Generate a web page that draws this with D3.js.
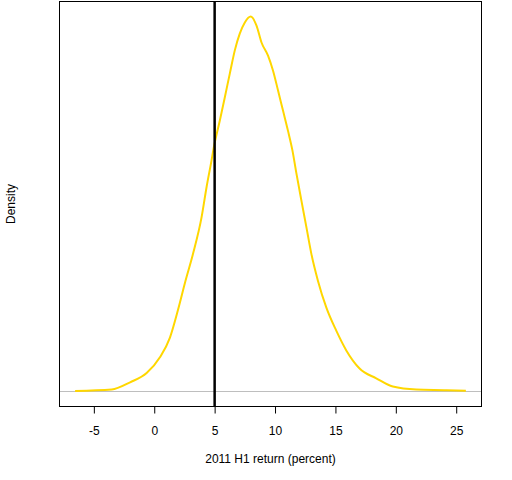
<!DOCTYPE html>
<html><head><meta charset="utf-8">
<script src="https://cdn.jsdelivr.net/npm/d3@7"></script>
<style>body{margin:0;background:#fff}svg{display:block}text{font-family:"Liberation Sans",Arial,sans-serif;fill:#000}</style>
</head><body>
<svg id="c" width="512" height="480"></svg>
<script>
const returns = [-6.55,-3.52,-2.0,-0.63,0.47,1.3,1.98,2.54,3.22,3.92,4.33,4.74,4.93,5.43,5.84,6.26,6.67,7.08,7.5,7.99,8.46,8.88,9.42,9.83,10.25,10.66,11.07,11.44,11.77,12.18,12.6,13.0,13.55,14.25,15.07,15.9,17.0,18.38,19.75,21.7,24.2,25.8];
const density = [0.00015,0.0006,0.0028,0.0056,0.0104,0.0164,0.0250,0.0330,0.0420,0.0530,0.0621,0.0702,0.0742,0.0824,0.0894,0.0967,0.1037,0.1088,0.1122,0.1140,0.1113,0.1061,0.1021,0.0976,0.0915,0.0854,0.0793,0.0733,0.0663,0.0581,0.0499,0.0420,0.0337,0.0255,0.0185,0.0125,0.0070,0.0040,0.0015,0.0006,0.0004,0.0002];
const xTicks = [-5,0,5,10,15,20,25];
const refLine = 5;

const L=59.5,R=481.5,T=1.5,B=406.5;
const svg=d3.select("#c");
const xr=d3.extent(returns), xp=(xr[1]-xr[0])*0.04;
const x=d3.scaleLinear().domain([xr[0]-xp,xr[1]+xp]).range([L,R]);
const ymax=d3.max(density), yp=ymax*0.04;
const y=d3.scaleLinear().domain([-yp,ymax+yp]).range([B,T]);

svg.append("defs").append("clipPath").attr("id","clip").append("rect").attr("x",L).attr("y",T).attr("width",R-L).attr("height",B-T);
const g=svg.append("g").attr("clip-path","url(#clip)");
g.append("line").attr("x1",L).attr("x2",R).attr("y1",Math.round(y(0))+0.5).attr("y2",Math.round(y(0))+0.5).attr("stroke","#BEBEBE").attr("stroke-width",1);
const pts=returns.map((v,i)=>[v,density[i]]);
g.append("path").datum(pts).attr("fill","none").attr("stroke","#FFD700").attr("stroke-width",2)
 .attr("d",d3.line().x(d=>x(d[0])).y(d=>y(d[1])).curve(d3.curveMonotoneX));
g.append("line").attr("x1",x(refLine)).attr("x2",x(refLine)).attr("y1",T).attr("y2",B).attr("stroke","#000").attr("stroke-width",2.5);

svg.append("rect").attr("x",L).attr("y",T).attr("width",R-L).attr("height",B-T).attr("fill","none").attr("stroke","#000").attr("stroke-width",1);

const ax=svg.append("g").attr("transform",`translate(0,${B})`)
 .call(d3.axisBottom(x).tickValues(xTicks).tickSize(7).tickPadding(13).tickFormat(d=>String(d)));
ax.select(".domain").remove();
ax.selectAll("line").attr("stroke","#000");
ax.selectAll("text").attr("font-size","12px").attr("font-family","Liberation Sans, Arial, sans-serif").attr("fill","#000");

svg.append("text").attr("x",(L+R)/2).attr("y",463).attr("text-anchor","middle").attr("font-size","12px").text("2011 H1 return (percent)");
svg.append("text").attr("transform",`translate(15,${(T+B)/2}) rotate(-90)`).attr("text-anchor","middle").attr("font-size","12px").text("Density");
</script>
</body></html>
